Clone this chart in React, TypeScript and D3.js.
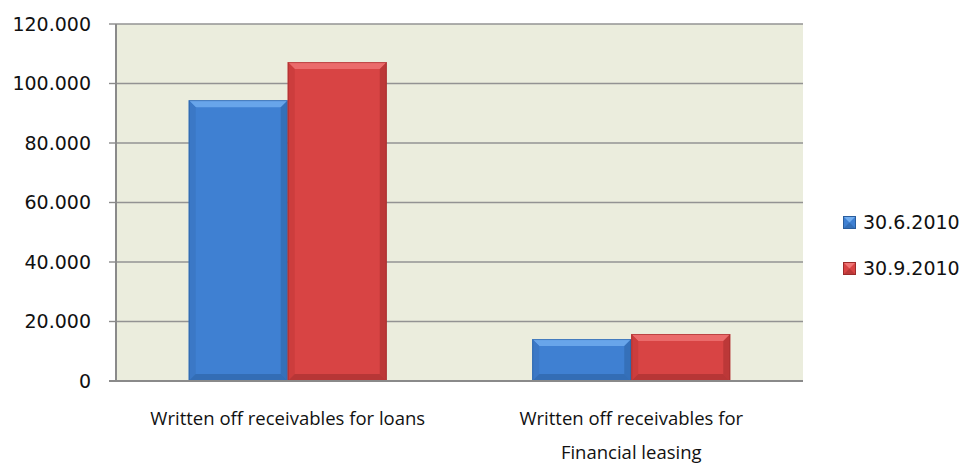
import React from "react";
import * as d3 from "d3";

const categories: string[][] = [
  ["Written off receivables for loans"],
  ["Written off receivables for", "Financial leasing"],
];
const seriesNames = ["30.6.2010", "30.9.2010"];
const series1 = [94400, 14100];
const series2 = [107200, 15800];
const yTicks = [0, 20000, 40000, 60000, 80000, 100000, 120000];

const W = 967;
const H = 464;
const left = 116;
const right = 803;
const top = 24;
const bottom = 381;

const colors = [
  { base: "#3f80d2", light: "#73aef0", dark: "#2a5d9c", mid: "#3b78c6" },
  { base: "#d84444", light: "#f07575", dark: "#9c2b2b", mid: "#cc3d3d" },
];

const FONT = "'Open Sans', sans-serif";
const NUMFONT = "'DejaVu Sans', sans-serif";

function Bar({ x, y, w, h, c }: { x: number; y: number; w: number; h: number; c: typeof colors[0] }) {
  const b = Math.min(7, h / 3, w / 4);
  const x2 = x + w;
  const y2 = y + h;
  return (
    <g>
      <rect x={x} y={y} width={w} height={h} fill={c.base} />
      <polygon points={`${x},${y} ${x2},${y} ${x2 - b},${y + b} ${x + b},${y + b}`} fill={c.light} opacity={0.8} />
      <polygon points={`${x},${y} ${x + b},${y + b} ${x + b},${y2 - b} ${x},${y2}`} fill={c.mid} />
      <polygon points={`${x2},${y} ${x2},${y2} ${x2 - b},${y2 - b} ${x2 - b},${y + b}`} fill={c.dark} opacity={0.45} />
      <polygon points={`${x},${y2} ${x2},${y2} ${x2 - b},${y2 - b} ${x + b},${y2 - b}`} fill={c.dark} opacity={0.55} />
      <rect x={x + 0.5} y={y + 0.5} width={w - 1} height={h - 1} fill="none" stroke={c.dark} strokeWidth={1} opacity={0.6} />
    </g>
  );
}

export default function App() {
  const y = d3.scaleLinear().domain([0, 120000]).range([bottom, top]);
  const x0 = d3
    .scaleBand<number>()
    .domain(d3.range(categories.length))
    .range([left, right])
    .paddingInner(0.4236)
    .paddingOuter(0.2118);
  const x1 = d3.scaleBand<number>().domain([0, 1]).range([0, x0.bandwidth()]);
  const fmt = (v: number) => (v === 0 ? "0" : d3.format(".3f")(v / 1000));
  const data = [series1, series2];

  return (
    <svg width={W} height={H} style={{ position: "absolute", left: 0, top: 0, background: "#fff" }}>
      <rect x={left} y={top} width={right - left} height={bottom - top} fill="#ebeddd" />
      {yTicks.map((t) => (
        <g key={t}>
          {t > 0 && <line x1={left} x2={right} y1={y(t)} y2={y(t)} stroke="#939393" strokeWidth={1.4} />}
          <line x1={left - 7} x2={left} y1={y(t)} y2={y(t)} stroke="#8a8a8a" strokeWidth={1.4} />
          <text x={91} y={y(t)} dy="0.36em" textAnchor="end" fontFamily={NUMFONT} fontSize={19} fill="#111">
            {fmt(t)}
          </text>
        </g>
      ))}
      {categories.map((_, i) =>
        data.map((s, j) => {
          const bx = (x0(i) as number) + (x1(j) as number);
          const by = y(s[i]);
          return <Bar key={`${i}-${j}`} x={bx} y={by} w={x1.bandwidth()} h={bottom - by} c={colors[j]} />;
        })
      )}
      <line x1={left} x2={left} y1={top} y2={bottom + 1} stroke="#8a8a8a" strokeWidth={2} />
      <line x1={left - 7} x2={right} y1={bottom} y2={bottom} stroke="#8a8a8a" strokeWidth={2} />
      {categories.map((lines, i) => (
        <text
          key={i}
          x={(x0(i) as number) + x0.bandwidth() / 2}
          y={418}
          textAnchor="middle"
          fontFamily={FONT}
          fontSize={18.5}
          fill="#111"
        >
          {lines.map((l, k) => (
            <tspan key={k} x={(x0(i) as number) + x0.bandwidth() / 2} dy={k === 0 ? "0.36em" : 34}>
              {l}
            </tspan>
          ))}
        </text>
      ))}
      {seriesNames.map((n, j) => (
        <g key={n} transform={`translate(843, ${222 + j * 46})`}>
          <rect x={0.5} y={-5.5} width={12} height={12} fill={colors[j].base} stroke={colors[j].dark} strokeWidth={1} />
          <polygon points="1,-5 12,-5 6.5,0.5" fill={colors[j].light} />
          <polygon points="1,6 12,6 6.5,0.5" fill={colors[j].dark} opacity={0.5} />
          <text x={20} y={0} dy="0.36em" fontFamily={NUMFONT} fontSize={19} fill="#111">
            {n}
          </text>
        </g>
      ))}
    </svg>
  );
}
